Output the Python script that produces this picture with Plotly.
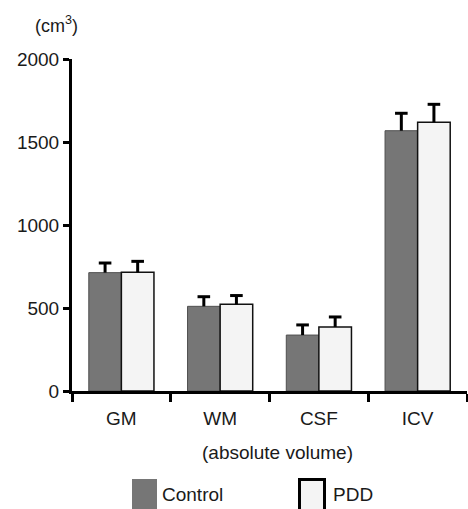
import plotly.graph_objects as go

# ---- data ----
categories = ["GM", "WM", "CSF", "ICV"]
series_names = ["Control", "PDD"]
control_mean = [713, 510, 337, 1568]
control_sd = [58, 58, 61, 105]
pdd_mean = [715, 522, 386, 1619]
pdd_sd = [66, 53, 60, 108]
y_tick_vals = [0, 500, 1000, 1500, 2000]
y_unit_label = "(cm<sup>3</sup>)"
x_title = "(absolute volume)"

# ---- layout constants (pixels) ----
W, H = 468, 509
L, R, T, B = 72, 1, 59, 118
PW = W - L - R
PH = H - T - B
FONT = "Liberation Sans, Arial, Helvetica, sans-serif"
TXT = "#1a1a1a"
CTRL_FILL = "#767676"
CTRL_LINE = "#505050"
PDD_FILL = "#f4f4f4"
PDD_LINE = "#111111"


def px(x):
    return (x - L) / PW


def py(y):
    return (H - B - y) / PH


fig = go.Figure()

groups = [
    (series_names[0], control_mean, control_sd, CTRL_FILL, CTRL_LINE, 1),
    (series_names[1], pdd_mean, pdd_sd, PDD_FILL, PDD_LINE, 1.5),
]

for name, mean, sd, fill, line, lw in groups:
    fig.add_trace(go.Bar(
        x=categories, y=mean, name=name, offsetgroup=name,
        marker=dict(color=fill, line=dict(color=line, width=lw)),
        showlegend=False,
    ))

for name, mean, sd, fill, line, lw in groups:
    tops = [m + s for m, s in zip(mean, sd)]
    fig.add_trace(go.Scatter(
        x=categories, y=tops, mode="markers", offsetgroup=name,
        marker=dict(symbol="line-ew", size=9, color="black",
                    line=dict(color="black", width=3)),
        error_y=dict(type="data", symmetric=False, array=[0] * len(tops),
                     arrayminus=sd, width=0, thickness=3, color="black"),
        showlegend=False, hoverinfo="skip",
    ))

# manual legend (squares + labels)
shapes = [
    dict(type="rect", xref="paper", yref="paper",
         x0=px(132), x1=px(157), y0=py(479), y1=py(512),
         fillcolor=CTRL_FILL, line=dict(width=0)),
    dict(type="rect", xref="paper", yref="paper",
         x0=px(299.5), x1=px(324.5), y0=py(479.5), y1=py(512),
         fillcolor=PDD_FILL, line=dict(color="black", width=3)),
]

annotations = [
    dict(text=series_names[0], x=px(160), y=py(495), xref="paper", yref="paper",
         xanchor="left", yanchor="middle", showarrow=False,
         font=dict(size=19, color=TXT, family=FONT)),
    dict(text=series_names[1], x=px(331), y=py(495), xref="paper", yref="paper",
         xanchor="left", yanchor="middle", showarrow=False,
         font=dict(size=19, color=TXT, family=FONT)),
    dict(text=y_unit_label, x=px(56), y=py(24), xref="paper", yref="paper",
         xanchor="center", yanchor="middle", showarrow=False,
         font=dict(size=18, color=TXT, family=FONT)),
    dict(text=x_title, x=px(277.5), y=py(452), xref="paper", yref="paper",
         xanchor="center", yanchor="middle", showarrow=False,
         font=dict(size=19, color=TXT, family=FONT)),
]

fig.update_layout(
    width=W, height=H,
    margin=dict(l=L, r=R, t=T, b=B, pad=0),
    paper_bgcolor="white", plot_bgcolor="white",
    barmode="group", bargap=0.34, bargroupgap=0,
    scattermode="group", scattergap=0.34,
    font=dict(family=FONT, size=18, color=TXT),
    shapes=shapes, annotations=annotations,
    showlegend=False,
)

fig.update_xaxes(
    range=[-0.5, 3.5], showgrid=False, zeroline=False,
    showline=True, linecolor="black", linewidth=3,
    ticks="outside", tickson="boundaries", ticklen=8, tickwidth=3, tickcolor="black",
    tickfont=dict(size=19, color=TXT, family=FONT),
    ticklabelstandoff=8,
    fixedrange=True,
)
fig.update_yaxes(
    range=[0, 2000], tickvals=y_tick_vals, showgrid=False, zeroline=False,
    showline=True, linecolor="black", linewidth=3,
    ticks="outside", ticklen=6, tickwidth=3, tickcolor="black",
    tickfont=dict(size=19, color=TXT, family=FONT),
    fixedrange=True,
)

fig.write_html(
    "out.html",
    config={"displayModeBar": False},
    post_script="document.body.style.margin='0';document.body.style.overflow='hidden';",
)
